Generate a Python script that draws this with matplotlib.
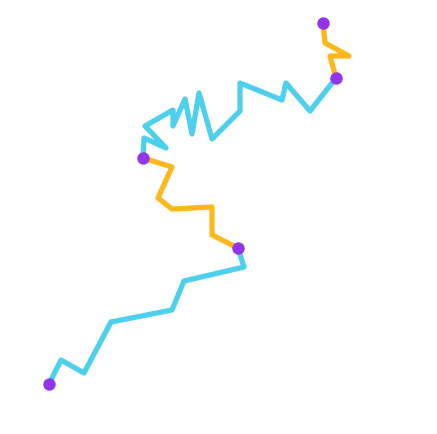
import matplotlib
matplotlib.use('Agg')
import matplotlib.pyplot as plt

# Path split into four legs; each leg shares its end point with the next one
leg1_x = [49, 61, 84, 111, 172, 184, 244, 238]
leg1_y = [384, 360, 373, 322, 310, 281, 267, 248]
leg2_x = [238, 212, 212, 172, 158, 172, 143]
leg2_y = [248, 235, 207, 209, 198, 167, 158]
leg3_x = [143, 144, 166, 145, 173, 173, 185, 192, 199, 212, 240, 240, 282, 286, 310, 336]
leg3_y = [158, 138, 148, 126, 110, 126, 99, 134, 93, 139, 111, 83, 100, 83, 111, 78]
leg4_x = [336, 330, 349, 325, 323]
leg4_y = [78, 56, 56, 43, 23]

legs = [(leg1_x, leg1_y), (leg2_x, leg2_y), (leg3_x, leg3_y), (leg4_x, leg4_y)]
leg_colors = ['#4dcfee', '#ffb81c', '#4dcfee', '#ffb81c']

fig = plt.figure(figsize=(4.37, 4.34), dpi=100)
ax = fig.add_axes([0, 0, 1, 1])

for (xs, ys), c in zip(legs, leg_colors):
    ax.plot(xs, ys, color=c, lw=3.8, solid_joinstyle='round', solid_capstyle='butt', zorder=2)

# break points between legs
dot_x = [leg1_x[0]] + [xs[-1] for xs, ys in legs]
dot_y = [leg1_y[0]] + [ys[-1] for xs, ys in legs]
ax.scatter(dot_x, dot_y, s=80, color='#9333ea', zorder=3, linewidths=0)

ax.set_xlim(0, 437)
ax.set_ylim(434, 0)
ax.axis('off')

fig.savefig('out.png', dpi=100)
